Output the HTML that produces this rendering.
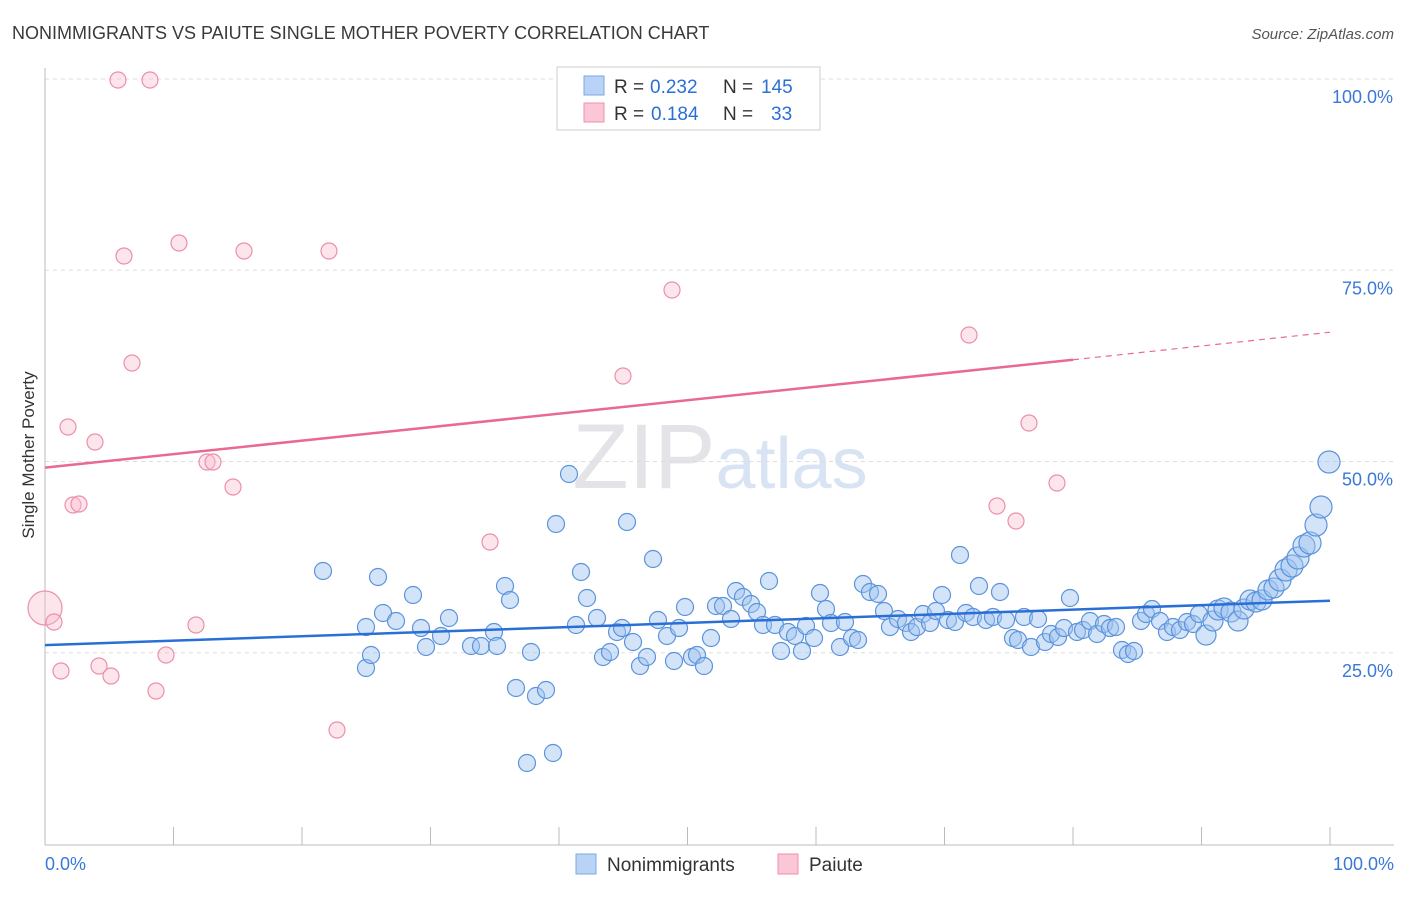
<!DOCTYPE html>
<html><head><meta charset="utf-8"><style>
body{margin:0;background:#fff;font-family:"Liberation Sans",sans-serif;}
svg text{font-family:"Liberation Sans",sans-serif;}
</style></head><body>
<svg id="chart" width="1406" height="892" xmlns="http://www.w3.org/2000/svg">
<text x="12" y="39" font-size="18" fill="#3a3a3a">NONIMMIGRANTS VS PAIUTE SINGLE MOTHER POVERTY CORRELATION CHART</text>
<text x="1394" y="39" font-size="15" fill="#555" text-anchor="end" font-style="italic">Source: ZipAtlas.com</text>
<text x="720" y="488" font-size="92" fill="#e4e4e8" text-anchor="middle" font-family="Liberation Serif">ZIP<tspan fill="#d8e4f4" font-family="Liberation Sans" font-size="72">atlas</tspan></text>
<g id="grid"></g>
<g id="axes"></g>
<g id="marks"></g>
<text transform="translate(34,455) rotate(-90)" font-size="17" fill="#333" text-anchor="middle">Single Mother Poverty</text>
<g>
<rect x="557" y="67" width="263" height="63" fill="#fff" stroke="#ccc"/>
<rect x="584" y="76" width="20" height="19" fill="#b8d3f5" stroke="#7aa8e0"/>
<rect x="584" y="103" width="20" height="19" fill="#fbc7d6" stroke="#ee92ae"/>
<text x="614" y="93" font-size="19" fill="#333">R =</text>
<text x="650" y="93" font-size="19" fill="#2a6fd6">0.232</text>
<text x="723" y="93" font-size="19" fill="#333">N =</text>
<text x="761" y="93" font-size="19" fill="#2a6fd6">145</text>
<text x="614" y="120" font-size="19" fill="#333">R =</text>
<text x="651" y="120" font-size="19" fill="#2a6fd6">0.184</text>
<text x="723" y="120" font-size="19" fill="#333">N =</text>
<text x="771" y="120" font-size="19" fill="#2a6fd6">33</text>
</g>
<g>
<rect x="576" y="854" width="20" height="20" fill="#b8d3f5" stroke="#7aa8e0"/>
<text x="607" y="871" font-size="19" fill="#333">Nonimmigrants</text>
<rect x="778" y="854" width="20" height="20" fill="#fbc7d6" stroke="#ee92ae"/>
<text x="809" y="871" font-size="19" fill="#333">Paiute</text>
</g>
</svg>
<script>
const blueX=[323,366,371,378,383,366,396,413,421,426,441,449,471,481,494,497,505,510,516,527,531,536,546,553,556,569,576,581,587,597,603,610,617,622,627,633,640,647,653,658,667,674,679,685,692,697,704,711,716,723,731,736,743,751,757,763,769,775,781,788,795,802,806,814,820,826,831,840,845,852,858,863,870,878,884,890,898,906,911,917,923,930,936,942,948,955,960,966,973,979,986,993,1000,1006,1013,1018,1024,1031,1038,1045,1051,1058,1064,1070,1077,1083,1090,1097,1104,1110,1116,1122,1128,1134,1141,1146,1152,1160,1167,1173,1180,1187,1193,1199,1206,1213,1218,1224,1231,1238,1244,1250,1256,1262,1268,1274,1280,1286,1292,1298,1304,1310,1316,1321,1329].map(p=>(p-45)/12.85);
const blueY=[571,668,655,577,613,627,621,595,628,647,636,618,646,646,632,646,586,600,688,763,652,696,690,753,524,474,625,572,598,618,657,652,632,628,522,642,666,657,559,620,636,661,628,607,657,655,666,638,606,606,619,591,597,604,612,625,581,625,651,632,636,651,626,638,593,609,623,647,622,638,640,584,592,594,611,627,619,623,632,627,614,623,611,595,620,622,555,613,617,586,620,617,592,620,638,640,617,647,619,642,634,637,628,598,632,630,621,634,624,628,627,650,654,651,621,614,609,621,632,627,630,622,624,614,635,621,610,608,612,621,609,600,602,600,590,588,580,570,566,558,546,543,525,507,462].map(p=>(844-p)/7.65);
const pinkX=[118,150,634,124,179,244,329,672,132,623,969,68,95,207,213,233,73,79,490,997,1016,1057,1029,45,54,196,166,99,61,111,156,337].map(p=>(p-45)/12.85);
const pinkY=[80,80,80,256,243,251,251,290,363,376,335,427,442,462,462,487,505,504,542,506,521,483,423,608,622,625,655,666,671,676,691,730].map(p=>(844-p)/7.65);
const yTicks=[25,50,75,100];
const yTickLabels=["25.0%","50.0%","75.0%","100.0%"];
const xTicks=[0,10,20,30,40,50,60,70,80,90,100];
const blueTrend=[[0,26.0],[100,31.8]];
const pinkTrend=[[0,49.2],[80,63.3],[100,66.9]];
const X=v=>45+v*12.85, Y=v=>844-v*7.65;
const NS="http://www.w3.org/2000/svg";
function mk(t,a,p){const e=document.createElementNS(NS,t);for(const k in a)e.setAttribute(k,a[k]);p.appendChild(e);return e;}
const grid=document.getElementById('grid'),axes=document.getElementById('axes'),marks=document.getElementById('marks');
yTicks.forEach((v,i)=>{
 const l=mk('line',{x1:45,x2:1394,y1:Y(v),y2:Y(v),stroke:'#ddd','stroke-dasharray':'4,4'},grid);
 
 
 const t=mk('text',{x:1393,y:Y(v)+24,'font-size':18,fill:'#3a78d8','text-anchor':'end'},axes);
 t.textContent=yTickLabels[i];
 
 
});
const xa=mk('line',{x1:45,x2:1394,y1:845,y2:845,stroke:'#bbb'},axes);


const ya=mk('line',{x1:45,x2:45,y1:68,y2:845,stroke:'#bbb'},axes);


xTicks.forEach(v=>{const t=mk('line',{x1:X(v),x2:X(v),y1:827,y2:845,stroke:'#bbb'},axes);
 
 });
[["0.0%",45,'start'],["100.0%",1394,'end']].forEach(a=>{const t=mk('text',{x:a[1],y:870,'font-size':18,fill:'#3a78d8','text-anchor':a[2]},axes);t.textContent=a[0];
 
 });
blueX.forEach((x,i)=>{
 const r=x>96?11:(x>90?10:8.5);
 const c=mk('circle',{cx:X(x),cy:Y(blueY[i]),r:r,fill:'rgba(160,195,240,0.45)',stroke:'#5b93dc','stroke-width':1.2},marks);
 
 
});
pinkX.forEach((x,i)=>{
 const r=(i==23)?17:8;
 const c=mk('circle',{cx:X(x),cy:Y(pinkY[i]),r:r,fill:'rgba(250,190,208,0.4)',stroke:'#ec8fab','stroke-width':1.2},marks);
 
 
});
const bt=mk('line',{x1:X(blueTrend[0][0]),y1:Y(blueTrend[0][1]),x2:X(blueTrend[1][0]),y2:Y(blueTrend[1][1]),stroke:'#2a6fd6','stroke-width':2.5},marks);


const pt=mk('line',{x1:X(pinkTrend[0][0]),y1:Y(pinkTrend[0][1]),x2:X(pinkTrend[1][0]),y2:Y(pinkTrend[1][1]),stroke:'#e86a94','stroke-width':2.5},marks);


const pd=mk('line',{x1:X(pinkTrend[1][0]),y1:Y(pinkTrend[1][1]),x2:X(pinkTrend[2][0]),y2:Y(pinkTrend[2][1]),stroke:'#e86a94','stroke-width':1.2,'stroke-dasharray':'6,5'},marks);


</script>
</body></html>
